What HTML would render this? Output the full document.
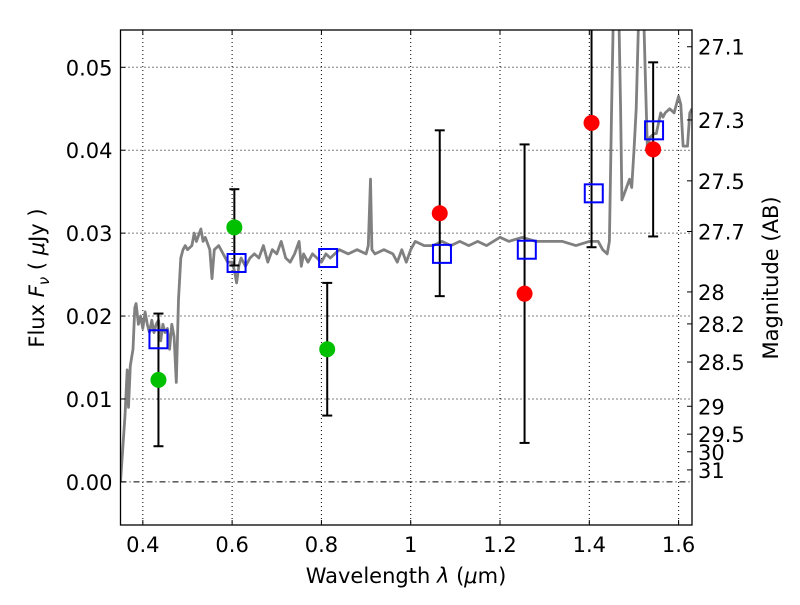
<!DOCTYPE html>
<html><head><meta charset="utf-8">
<style>
body{margin:0;background:#fff;}
svg text{font-family:"DejaVu Sans","Liberation Sans",sans-serif;fill:#000;}
</style></head>
<body>
<svg id="chart" width="800" height="600" xmlns="http://www.w3.org/2000/svg">
<defs><clipPath id="plotclip"><rect x="120.5" y="30" width="571.5" height="495"/></clipPath></defs>
<rect width="800" height="600" fill="#fff"/>
<g id="grid"></g>
<g id="spec" clip-path="url(#plotclip)"></g>
<g id="marks" clip-path="url(#plotclip)"></g>
<rect x="120.5" y="30" width="571.5" height="495" fill="none" stroke="#000" stroke-width="1.3"/>
<g id="ticks"></g>
<text x="406" y="583" font-size="21" text-anchor="middle">Wavelength  <tspan font-style="italic">λ</tspan> (<tspan font-style="italic">μ</tspan>m)</text>
<text transform="translate(44,278) rotate(-90)" font-size="21" text-anchor="middle">Flux  <tspan font-style="italic">F</tspan><tspan font-style="italic" font-size="15" dy="5">ν</tspan><tspan dy="-5">  (  </tspan><tspan font-style="italic">μ</tspan>Jy )</text>
<text transform="translate(778,278) rotate(-90)" font-size="21" text-anchor="middle">Magnitude (AB)</text>
</svg>
<script>
const xTicks=[0.4,0.6,0.8,1,1.2,1.4,1.6];
const xTickLabels=["0.4","0.6","0.8","1","1.2","1.4","1.6"];
const yTicks=[0,0.01,0.02,0.03,0.04,0.05];
const yTickLabels=["0.00","0.01","0.02","0.03","0.04","0.05"];
const magTicks=[27.1,27.3,27.5,27.7,28,28.2,28.5,29,29.5,30,31];
const specLam=[0.35,0.36,0.365,0.368,0.372,0.378,0.382,0.385,0.39,0.395,0.40,0.405,0.41,0.415,0.42,0.425,0.43,0.435,0.44,0.445,0.45,0.455,0.46,0.465,0.47,0.475,0.48,0.485,0.49,0.495,0.50,0.51,0.515,0.52,0.53,0.535,0.54,0.55,0.555,0.56,0.57,0.58,0.59,0.60,0.605,0.61,0.615,0.62,0.63,0.64,0.65,0.66,0.67,0.68,0.69,0.70,0.71,0.72,0.73,0.74,0.75,0.755,0.76,0.77,0.78,0.79,0.80,0.81,0.82,0.84,0.86,0.88,0.90,0.905,0.91,0.913,0.92,0.94,0.96,0.97,0.98,0.99,1.0,1.01,1.03,1.05,1.07,1.09,1.11,1.13,1.15,1.17,1.20,1.22,1.25,1.28,1.31,1.34,1.37,1.40,1.42,1.43,1.44,1.445,1.45,1.455,1.46,1.465,1.47,1.473,1.48,1.49,1.495,1.50,1.505,1.51,1.515,1.52,1.525,1.53,1.535,1.545,1.55,1.56,1.565,1.57,1.58,1.59,1.60,1.605,1.61,1.62,1.625,1.63];
const specFlux=[0.0,0.008,0.0135,0.009,0.014,0.016,0.021,0.0215,0.019,0.020,0.0185,0.0205,0.019,0.018,0.0195,0.018,0.019,0.0195,0.017,0.019,0.018,0.0185,0.016,0.019,0.0175,0.012,0.022,0.027,0.028,0.0285,0.028,0.0285,0.030,0.029,0.0305,0.029,0.0295,0.028,0.0245,0.028,0.0285,0.0275,0.0265,0.0265,0.0255,0.024,0.026,0.027,0.026,0.027,0.0275,0.027,0.0285,0.0265,0.028,0.0275,0.029,0.027,0.0265,0.0275,0.029,0.026,0.0275,0.0265,0.0275,0.027,0.0265,0.0275,0.027,0.028,0.0275,0.028,0.0275,0.0285,0.0365,0.028,0.0275,0.028,0.0275,0.0265,0.028,0.0265,0.028,0.029,0.0285,0.0285,0.029,0.0285,0.029,0.0285,0.029,0.0285,0.0295,0.029,0.0295,0.029,0.029,0.029,0.0285,0.029,0.029,0.028,0.0275,0.029,0.045,0.06,0.06,0.06,0.045,0.034,0.035,0.0365,0.0355,0.040,0.045,0.055,0.06,0.06,0.05,0.04,0.0415,0.042,0.042,0.0445,0.044,0.0445,0.045,0.0445,0.0465,0.0455,0.0405,0.0405,0.0445,0.045];
const greenLam=[0.435,0.605,0.813];
const greenFlux=[0.0123,0.0307,0.016];
const greenErr=[0.008,0.0046,0.008];
const redLam=[1.065,1.255,1.405,1.543];
const redFlux=[0.0324,0.0227,0.0433,0.0401];
const redErr=[0.010,0.018,0.015,0.0105];
const modelLam=[0.435,0.61,0.815,1.07,1.26,1.41,1.545];
const modelFlux=[0.0172,0.0264,0.0270,0.0275,0.0280,0.0348,0.0424];

const X0=120.5,X1=692,Y0=30,Y1=525,XMIN=0.35,XMAX=1.63,YMIN=-0.0052,YMAX=0.0545;
const xs=v=>X0+(v-XMIN)/(XMAX-XMIN)*(X1-X0);
const ys=v=>Y1-(v-YMIN)/(YMAX-YMIN)*(Y1-Y0);
const NS="http://www.w3.org/2000/svg";
function mk(tag,attrs,parent){const e=document.createElementNS(NS,tag);for(const k in attrs)e.setAttribute(k,attrs[k]);parent.appendChild(e);return e;}
const grid=document.getElementById('grid'),ticks=document.getElementById('ticks'),spec=document.getElementById('spec'),marks=document.getElementById('marks');
xTicks.forEach((t,i)=>{const x=xs(t);
 const g=mk('line',{x1:x,x2:x,y1:Y0,y2:Y1,stroke:'#000','stroke-width':1,'stroke-dasharray':'1,3'},grid);
 
 mk('line',{x1:x,x2:x,y1:Y1,y2:Y1-5,stroke:'#000'},ticks);mk('line',{x1:x,x2:x,y1:Y0,y2:Y0+5,stroke:'#000'},ticks);
 const tx=mk('text',{x:x,y:Y1+27,'font-size':21,'text-anchor':'middle'},ticks);tx.textContent=xTickLabels[i];
 });
yTicks.forEach((t,i)=>{const y=ys(t);
 const g=mk('line',{x1:X0,x2:X1,y1:y,y2:y,stroke:'#000','stroke-width':1,'stroke-dasharray':t===0?'6,3,1,3':'1,3'},grid);
 
 mk('line',{x1:X0,x2:X0+5,y1:y,y2:y,stroke:'#000'},ticks);
 const tx=mk('text',{x:X0-8,y:y+8,'font-size':21,'text-anchor':'end'},ticks);tx.textContent=yTickLabels[i];
 });
magTicks.forEach(m=>{const y=ys(Math.pow(10,(23.9-m)/2.5));
 mk('line',{x1:X1,x2:X1-5,y1:y,y2:y,stroke:'#000'},ticks);
 const tx=mk('text',{x:X1+6,y:y+8,'font-size':21},ticks);tx.textContent=String(m);
 });
const pts=specLam.map((l,i)=>xs(l).toFixed(1)+','+ys(specFlux[i]).toFixed(1)).join(' ');
const pl=mk('polyline',{points:pts,fill:'none',stroke:'#808080','stroke-width':2.8,'stroke-linejoin':'round'},spec);

function errbar(l,f,e){const x=xs(l),a=ys(f-e),b=ys(f+e);
 const g=mk('g',{stroke:'#000','stroke-width':2},marks);
 
 mk('line',{x1:x,x2:x,y1:a,y2:b},g);mk('line',{x1:x-5,x2:x+5,y1:a,y2:a},g);mk('line',{x1:x-5,x2:x+5,y1:b,y2:b},g);}
greenLam.forEach((l,i)=>errbar(l,greenFlux[i],greenErr[i]));
redLam.forEach((l,i)=>errbar(l,redFlux[i],redErr[i]));
modelLam.forEach((l,i)=>{const r=mk('rect',{x:xs(l)-9,y:ys(modelFlux[i])-9,width:18,height:18,fill:'none',stroke:'#0000ff','stroke-width':2},marks);
 });
greenLam.forEach((l,i)=>{const c=mk('circle',{cx:xs(l),cy:ys(greenFlux[i]),r:8,fill:'#00c000'},marks);
 });
redLam.forEach((l,i)=>{const c=mk('circle',{cx:xs(l),cy:ys(redFlux[i]),r:8,fill:'#ff0000'},marks);
 });
</script>
</body></html>
